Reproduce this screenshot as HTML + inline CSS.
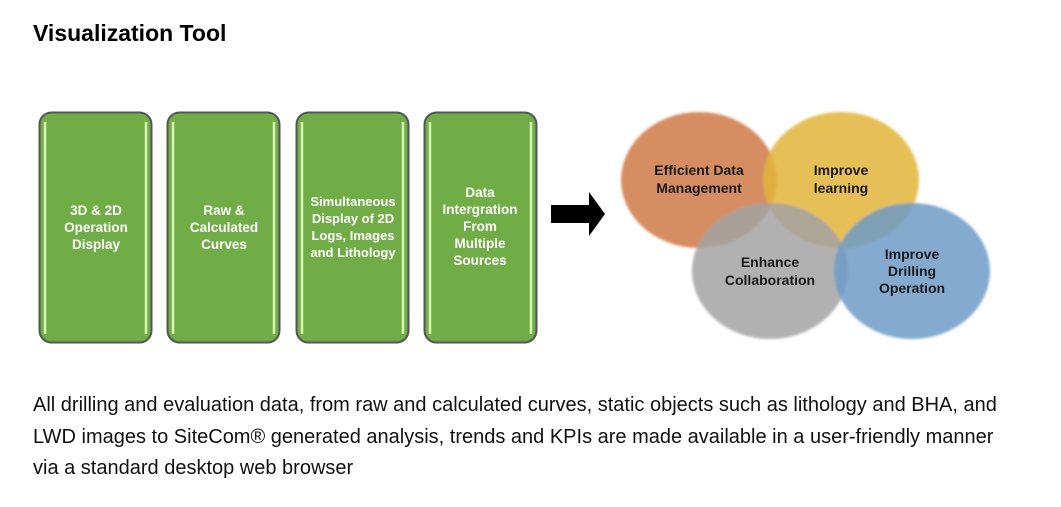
<!DOCTYPE html>
<html><head><style>
body{margin:0;width:1061px;height:507px;background:#fff;font-family:"Liberation Sans",sans-serif;overflow:hidden;position:relative}
h1{position:absolute;left:33px;top:20px;margin:0;font-size:23px;font-weight:bold;color:#000}
p{position:absolute;left:33px;top:390px;margin:0;font-size:20px;line-height:31.5px;color:#111;width:972px}
svg{position:absolute;left:0;top:0}
</style></head><body>
<h1>Visualization Tool</h1>
<svg width="1061" height="380" font-family="Liberation Sans, sans-serif" font-weight="bold">
<defs>
<filter id="b" x="-10%" y="-10%" width="120%" height="120%"><feGaussianBlur stdDeviation="1.2"/></filter>
</defs>
<g font-size="13.5" fill="#fff" text-anchor="middle">
<g>
<rect x="39.5" y="112.5" width="112" height="230" rx="12" fill="#70ad47" stroke="#555" stroke-width="2"/>
<line x1="45" y1="122" x2="45" y2="334" stroke="#d9f5b8" stroke-width="2.5"/><line x1="146" y1="122" x2="146" y2="334" stroke="#d9f5b8" stroke-width="2.5"/>
<text x="96" y="215">3D &amp; 2D</text><text x="96" y="232">Operation</text><text x="96" y="249">Display</text>
</g>
<g>
<rect x="167.5" y="112.5" width="112" height="230" rx="12" fill="#70ad47" stroke="#555" stroke-width="2"/>
<line x1="173" y1="122" x2="173" y2="334" stroke="#d9f5b8" stroke-width="2.5"/><line x1="274" y1="122" x2="274" y2="334" stroke="#d9f5b8" stroke-width="2.5"/>
<text x="224" y="215">Raw &amp;</text><text x="224" y="232">Calculated</text><text x="224" y="249">Curves</text>
</g>
<g>
<rect x="296.5" y="112.5" width="112" height="230" rx="12" fill="#70ad47" stroke="#555" stroke-width="2"/>
<line x1="302" y1="122" x2="302" y2="334" stroke="#d9f5b8" stroke-width="2.5"/><line x1="403" y1="122" x2="403" y2="334" stroke="#d9f5b8" stroke-width="2.5"/>
<text x="353" y="206" font-size="13">Simultaneous</text><text x="353" y="223" font-size="13">Display of 2D</text><text x="353" y="240" font-size="13">Logs, Images</text><text x="353" y="257" font-size="13">and Lithology</text>
</g>
<g>
<rect x="424.5" y="112.5" width="112" height="230" rx="12" fill="#70ad47" stroke="#555" stroke-width="2"/>
<line x1="430" y1="122" x2="430" y2="334" stroke="#d9f5b8" stroke-width="2.5"/><line x1="531" y1="122" x2="531" y2="334" stroke="#d9f5b8" stroke-width="2.5"/>
<text x="480" y="197">Data</text><text x="480" y="214">Intergration</text><text x="480" y="231">From</text><text x="480" y="248">Multiple</text><text x="480" y="265">Sources</text>
</g>
</g>
<polygon points="551,205 589,205 589,192 605,214 589,236 589,223 551,223" fill="#000"/>
<g filter="url(#b)">
<ellipse cx="699" cy="180" rx="78" ry="68" fill="#d4885a" opacity="0.95"/>
<ellipse cx="841" cy="180" rx="78" ry="68" fill="#e2b53a" opacity="0.85"/>
<ellipse cx="770" cy="271" rx="78" ry="68" fill="#a3a3a3" opacity="0.85"/>
<ellipse cx="912" cy="271" rx="78" ry="68" fill="#6e9bc8" opacity="0.85"/>
</g>
<g font-size="14" fill="#1a1a1a" text-anchor="middle">
<text x="699" y="175">Efficient Data</text><text x="699" y="193">Management</text>
<text x="841" y="175">Improve</text><text x="841" y="193">learning</text>
<text x="770" y="267">Enhance</text><text x="770" y="285">Collaboration</text>
<text x="912" y="259">Improve</text><text x="912" y="276">Drilling</text><text x="912" y="293">Operation</text>
</g>
</svg>
<p>All drilling and evaluation data, from raw and calculated curves, static objects such as lithology and BHA, and LWD images to SiteCom® generated analysis, trends and KPIs are made available in a user-friendly manner via a standard desktop web browser</p>
</body></html>
